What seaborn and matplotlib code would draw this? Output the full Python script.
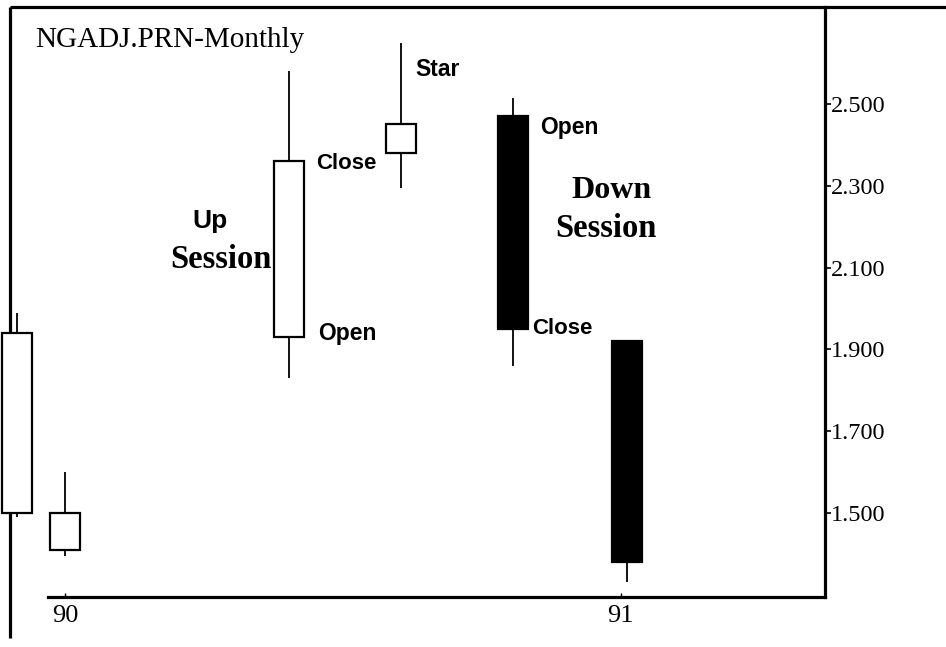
import matplotlib
matplotlib.use("Agg")
import matplotlib.pyplot as plt
import seaborn as sns
import pandas as pd
import numpy as np

# ---- data ----
positions = [-0.43, 0.0, 2.0, 3.0, 4.0, 5.02]
opens = [1.50, 1.41, 1.93, 2.38, 2.47, 1.92]
highs = [1.99, 1.60, 2.58, 2.65, 2.515, 1.92]
lows = [1.49, 1.395, 1.83, 2.295, 1.86, 1.332]
closes = [1.94, 1.50, 2.36, 2.45, 1.95, 1.38]

x_tick_pos = [0.0, 4.96]
x_tick_labels = ["90", "91"]
y_ticks = [1.5, 1.7, 1.9, 2.1, 2.3, 2.5]

df = pd.DataFrame({"x": positions, "open": opens, "high": highs,
                   "low": lows, "close": closes})
df["up"] = df["close"] >= df["open"]

sns.set_theme(style="white")
plt.rcParams["font.family"] = ["Liberation Serif", "DejaVu Serif"]
plt.rcParams["text.color"] = "black"
plt.rcParams["axes.labelcolor"] = "black"

W, H = 946, 647
fig = plt.figure(figsize=(W / 100, H / 100), dpi=100)
fig.patch.set_facecolor("white")
ax_l, ax_r, ax_t, ax_b = 10, 825, 7, 597
ax = fig.add_axes([ax_l / W, 1 - ax_b / H, (ax_r - ax_l) / W, (ax_b - ax_t) / H])
ax.set_facecolor("white")

px_per_unit = 112.0
x0_px = 65.0
ax.set_xlim((ax_l - x0_px) / px_per_unit, (ax_r - x0_px) / px_per_unit)
ax.set_ylim(1.2946, 2.737)

# wicks
ax.vlines(df["x"], df["low"], df["high"], color="black", lw=1.3,
          zorder=3, clip_on=False)
# bodies
body_w = 0.27
bottoms = np.minimum(df["open"], df["close"])
heights = np.abs(df["close"] - df["open"])
colors = ["white" if u else "black" for u in df["up"]]
ax.bar(df["x"], heights, bottom=bottoms, width=body_w, color=colors,
       edgecolor="black", linewidth=1.6, zorder=4, clip_on=False)

# spines / frame
for s in ["left", "top"]:
    ax.spines[s].set_visible(False)
for s in ["right", "bottom"]:
    ax.spines[s].set_linewidth(2.3)
    ax.spines[s].set_color("black")
ax.spines["bottom"].set_bounds((48 - x0_px) / px_per_unit, ax.get_xlim()[1])
# left frame line reaching below the axis, top line reaching the right edge
ax.plot([0, 0], [(ax_b - 638) / (ax_b - ax_t), 1], transform=ax.transAxes,
        color="black", lw=2.3, clip_on=False, zorder=1, solid_capstyle="butt")
ax.plot([0, (W - ax_l) / (ax_r - ax_l)], [1, 1], transform=ax.transAxes,
        color="black", lw=2.3, clip_on=False, zorder=1, solid_capstyle="butt")

# ticks
ax.yaxis.tick_right()
ax.set_yticks(y_ticks)
ax.set_yticklabels([f"{v:.3f}" for v in y_ticks])
ax.tick_params(axis="y", which="major", direction="out", length=4, width=1.2,
               pad=0.5, labelsize=17.5, colors="black", right=True, left=False)
ax.set_xticks(x_tick_pos)
ax.set_xticklabels(x_tick_labels)
ax.tick_params(axis="x", direction="in", length=3, width=1, pad=6,
               labelsize=19, colors="black", bottom=True)

# annotations
def X(px):
    return (px - x0_px) / px_per_unit

def Y(py):
    return 2.5 - (py - 104) / 409.0

sans = ["Liberation Sans", "DejaVu Sans"]
serif = ["Liberation Serif", "DejaVu Serif"]
k = "black"

ax.text(X(35), Y(40), "NGADJ.PRN-Monthly", family=serif, fontsize=21,
        ha="left", va="center", color=k)
ax.text(X(415), Y(70), "Star", family=sans, fontweight="bold", fontsize=16.5,
        ha="left", va="center", color=k)
ax.text(X(316), Y(164), "Close", family=sans, fontweight="bold", fontsize=16,
        ha="left", va="center", color=k)
ax.text(X(318), Y(334), "Open", family=sans, fontweight="bold", fontsize=16.5,
        ha="left", va="center", color=k)
ax.text(X(210), Y(221), "Up", family=sans, fontweight="bold", fontsize=19,
        ha="center", va="center", color=k)
ax.text(X(221), Y(260), "Session", family=serif, fontweight="bold", fontsize=23.5,
        ha="center", va="center", color=k)
ax.text(X(540), Y(128), "Open", family=sans, fontweight="bold", fontsize=16.5,
        ha="left", va="center", color=k)
ax.text(X(611), Y(191), "Down", family=serif, fontweight="bold", fontsize=23,
        ha="center", va="center", color=k)
ax.text(X(606), Y(229), "Session", family=serif, fontweight="bold", fontsize=23.5,
        ha="center", va="center", color=k)
ax.text(X(532), Y(329), "Close", family=sans, fontweight="bold", fontsize=16,
        ha="left", va="center", color=k)

fig.savefig("out.png", dpi=100, facecolor="white")
